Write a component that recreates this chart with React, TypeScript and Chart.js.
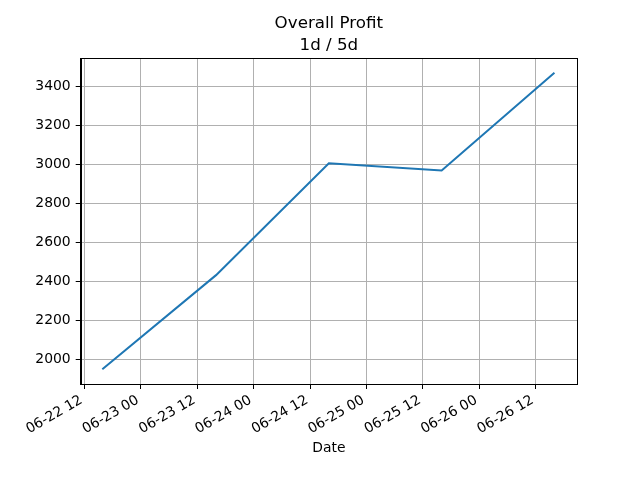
import React, { useEffect, useRef } from "react";
import { Chart, registerables } from "chart.js";

Chart.register(...registerables);

// hours since 06-22 00:00
const dateHours = [15.8, 40, 64, 88, 112];
const profit = [1949, 2431, 3004, 2967, 3468];
const xTickHours = [12, 24, 36, 48, 60, 72, 84, 96, 108];
const xTickLabels = ["06-22 12", "06-23 00", "06-23 12", "06-24 00", "06-24 12", "06-25 00", "06-25 12", "06-26 00", "06-26 12"];
const yTicks = [2000, 2200, 2400, 2600, 2800, 3000, 3200, 3400];
const titleLines = ["Overall Profit", "1d / 5d"];
const xTitle = "Date";

const FONT = '"DejaVu Sans", sans-serif';

const frameAndTitle = {
  id: "frameAndTitle",
  afterDraw(chart: any) {
    const { ctx, chartArea } = chart;
    ctx.save();
    ctx.strokeStyle = "#000";
    ctx.lineWidth = 1;
    ctx.strokeRect(Math.round(chartArea.left) + 0.5, Math.round(chartArea.top) + 0.5, Math.round(chartArea.right - chartArea.left), Math.round(chartArea.bottom - chartArea.top));
    ctx.fillStyle = "#000";
    ctx.font = `16.7px ${FONT}`;
    ctx.textAlign = "center";
    ctx.textBaseline = "middle";
    const cx = (chartArea.left + chartArea.right) / 2;
    ctx.fillText(titleLines[0], cx, 23.5);
    ctx.fillText(titleLines[1], cx, 45.5);
    ctx.restore();
  },
};

export default function App() {
  const ref = useRef<HTMLCanvasElement>(null);
  useEffect(() => {
    const chart = new Chart(ref.current!, {
      type: "line",
      data: {
        datasets: [
          {
            data: dateHours.map((h, i) => ({ x: h, y: profit[i] })),
            borderColor: "#1f77b4",
            borderWidth: 2,
            pointRadius: 0,
            tension: 0,
            fill: false,
          },
        ],
      },
      options: {
        animation: false,
        responsive: false,
        layout: { padding: { left: 0, right: 63, top: 58, bottom: 0 } },
        plugins: { legend: { display: false }, title: { display: false }, tooltip: { enabled: false } },
        scales: {
          x: {
            type: "linear",
            min: 11.2,
            max: 116.8,
            afterBuildTicks: (s: any) => {
              s.ticks = xTickHours.map((v) => ({ value: v }));
            },
            afterFit: (s: any) => {
              s.height = 96;
            },
            ticks: {
              autoSkip: false,
              maxRotation: 30,
              minRotation: 30,
              padding: 3,
              labelOffset: -3,
              color: "#000",
              font: { family: FONT, size: 13.9 },
              callback: (v: any) => {
                const i = xTickHours.indexOf(Number(v));
                return i >= 0 ? xTickLabels[i] : "";
              },
            },
            grid: { color: "#b0b0b0", lineWidth: 1, tickColor: "#000", tickLength: 5 },
            border: { display: true, color: "#000", width: 1 },
            title: { display: true, text: xTitle, color: "#000", font: { family: FONT, size: 13.9 }, padding: { top: 0, bottom: 23 } },
          },
          y: {
            type: "linear",
            min: 1873,
            max: 3544,
            afterBuildTicks: (s: any) => {
              s.ticks = yTicks.map((v) => ({ value: v }));
            },
            afterFit: (s: any) => {
              s.width = 80.7;
            },
            ticks: {
              padding: 5,
              color: "#000",
              font: { family: FONT, size: 13.9 },
              callback: (v: any) => String(v),
            },
            grid: { color: "#b0b0b0", lineWidth: 1, tickColor: "#000", tickLength: 5 },
            border: { display: true, color: "#000", width: 1 },
          },
        },
      },
      plugins: [frameAndTitle],
    });
    return () => chart.destroy();
  }, []);
  return (
    <div style={{ position: "fixed", left: 0, top: 0, width: 640, height: 480, background: "#fff" }}>
      <canvas ref={ref} width={640} height={480} />
    </div>
  );
}
